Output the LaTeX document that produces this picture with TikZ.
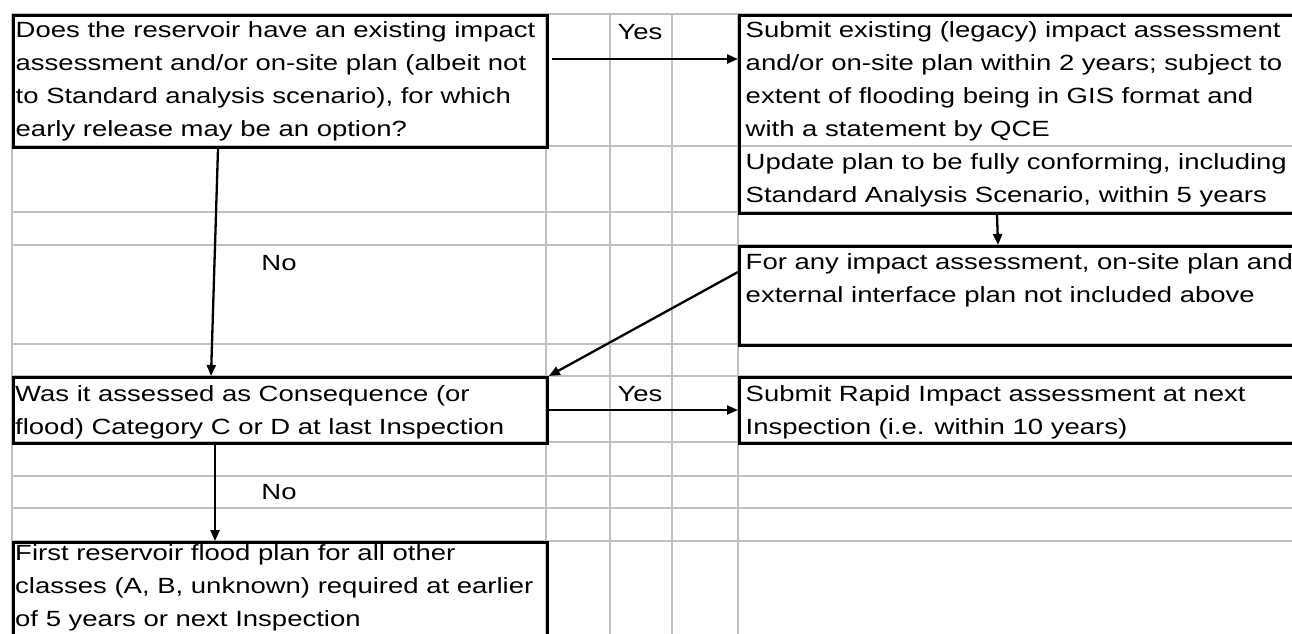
\documentclass[tikz,border=0pt]{standalone}
\usepackage{fontspec}
\setmainfont[FakeStretch=1.25]{Liberation Sans}
\usetikzlibrary{arrows.meta}
\definecolor{gridgray}{HTML}{C0C0C0}
\newcommand{\fs}{\fontsize{22}{33}\selectfont}
\begin{document}
\begin{tikzpicture}[x=1pt,y=-1pt,
  gridline/.style={draw=gridgray,line width=2.2pt},
  box/.style={draw=black,line width=2.8pt,inner sep=0pt,anchor=north west},
  txt/.style={inner sep=0pt,anchor=north west,align=left,font=\fs},
  lbl/.style={inner sep=0pt,anchor=base,font=\fs},
  arr/.style={draw=black,line width=2.3pt,-{Triangle[length=11pt,width=9pt]}}]
\useasboundingbox (0,0) rectangle (1292,633);
% spreadsheet grid
\foreach \yy in {14,146,212,245,344,376,442,476,508,541}
  \draw[gridline] (12,\yy) -- (1310,\yy);
\foreach \xx in {12,546,610,672,738}
  \draw[gridline] (\xx,14) -- (\xx,650);
% boxes
\node[box,minimum width=534pt,minimum height=132pt] (q1) at (12,14) {};
\node[box,minimum width=570pt,minimum height=198pt] (r1) at (738,14) {};
\node[box,minimum width=570pt,minimum height=99pt] (r2) at (738,245) {};
\node[box,minimum width=534pt,minimum height=66pt] (q2) at (12,376) {};
\node[box,minimum width=570pt,minimum height=66pt] (r3) at (738,376) {};
\node[box,minimum width=534pt,minimum height=110pt] (q3) at (12,541) {};
% texts
\node[txt] (t1) at (15.5,13.9) {\strut Does the reservoir have an existing impact\\assessment and/or on-site plan (albeit not\\to Standard analysis scenario), for which\\early release may be an option?};
\node[txt] (t2) at (745.5,13.9) {\strut Submit existing (legacy) impact assessment\\and/or on-site plan within 2 years; subject to\\extent of flooding being in GIS format and\\with a statement by QCE};
\node[txt] (t3) at (745.5,145.9) {\strut Update plan to be fully conforming, including\\Standard Analysis Scenario, within 5 years};
\node[txt] (t4) at (745.5,245.9) {\strut For any impact assessment, on-site plan and\\external interface plan not included above};
\node[txt] (t5) at (15,377.9) {\strut Was it assessed as Consequence (or\\flood) Category C or D at last Inspection};
\node[txt] (t6) at (745.5,377.9) {\strut Submit Rapid Impact assessment at next\\Inspection (i.e. within 10 years)};
\node[txt] (t7) at (15,536.9) {\strut First reservoir flood plan for all other\\classes (A, B, unknown) required at earlier\\of 5 years or next Inspection};
% labels
\node[lbl] (y1) at (640,39) {Yes};
\node[lbl] (y2) at (640,401) {Yes};
\node[lbl] (n1) at (279,270) {No};
\node[lbl] (n2) at (279,499) {No};
% connectors
\draw[arr] ([xshift=3pt,yshift=-45pt]q1.north east) coordinate (a1) -- (a1 -| r1.west);
\draw[arr] ([xshift=206pt]q1.south west) -- ([xshift=199pt]q2.north west);
\draw[arr] ([xshift=259pt]r1.south west) -- ([xshift=260pt]r2.north west);
\draw[arr] ([yshift=-27pt]r2.north west) -- (q2.north east);
\draw[arr] ([xshift=-3pt,yshift=-34pt]q2.north east) coordinate (a5) -- (a5 -| r3.west);
\draw[arr] ([xshift=203pt]q2.south west) -- ([xshift=203pt]q3.north west);
\end{tikzpicture}
\end{document}
